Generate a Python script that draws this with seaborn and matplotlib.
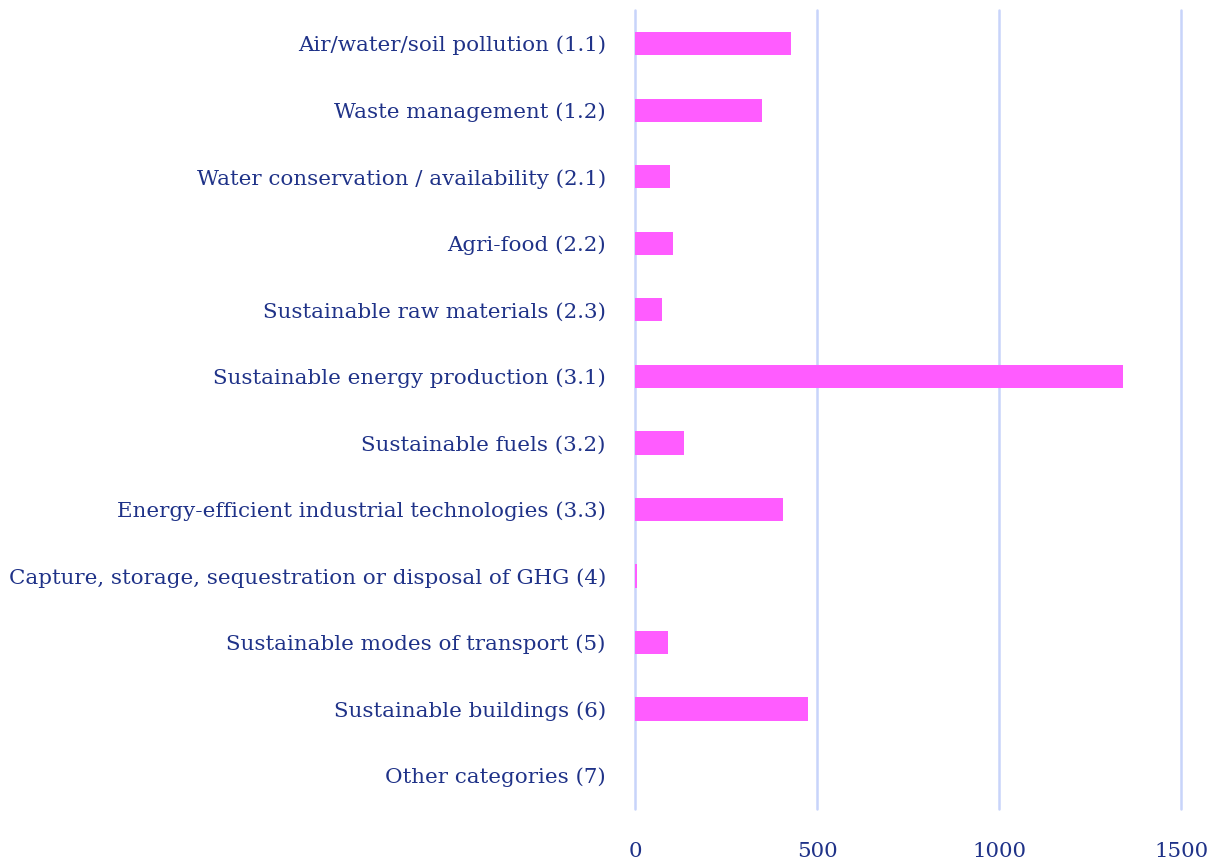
import pandas as pd
import seaborn as sns
import matplotlib.pyplot as plt

# data
categories = [
    "Air/water/soil pollution (1.1)",
    "Waste management (1.2)",
    "Water conservation / availability (2.1)",
    "Agri-food (2.2)",
    "Sustainable raw materials (2.3)",
    "Sustainable energy production (3.1)",
    "Sustainable fuels (3.2)",
    "Energy-efficient industrial technologies (3.3)",
    "Capture, storage, sequestration or disposal of GHG (4)",
    "Sustainable modes of transport (5)",
    "Sustainable buildings (6)",
    "Other categories (7)",
]
values = [427, 348, 97, 105, 75, 1340, 135, 407, 5, 91, 475, 0]
x_ticks = [0, 500, 1000, 1500]

df = pd.DataFrame({"category": categories, "value": values})

sns.set_style("white")
plt.rcParams["font.family"] = ["DejaVu Serif"]

navy = "#1F3288"
bar_color = "#FF5CFF"
grid_color = "#C8D4FA"

fig = plt.figure(figsize=(12.19, 8.66), dpi=100)
ax = fig.add_axes([0.521, 0.066, 0.448, 0.922])

sns.barplot(data=df, x="value", y="category", orient="h", color=bar_color,
            width=0.35, saturation=1, linewidth=0, ax=ax, zorder=3)

ax.set_xlim(0, 1500)
ax.set_ylim(11.5, -0.5)
ax.set_xticks(x_ticks)
ax.set_xticklabels([str(t) for t in x_ticks])
ax.xaxis.grid(True, color=grid_color, linewidth=1.8)
ax.yaxis.grid(False)
ax.set_axisbelow(True)
# keep the edge gridlines (0 and 1500) full width
for gl in ax.get_xgridlines():
    gl.set_clip_on(False)
for s in ax.spines.values():
    s.set_visible(False)

ax.set_xlabel("")
ax.set_ylabel("")
ax.tick_params(axis="both", length=0, colors=navy, labelsize=15.4)
ax.tick_params(axis="y", pad=21)
ax.tick_params(axis="x", pad=24)

fig.savefig("out.png", dpi=100)
